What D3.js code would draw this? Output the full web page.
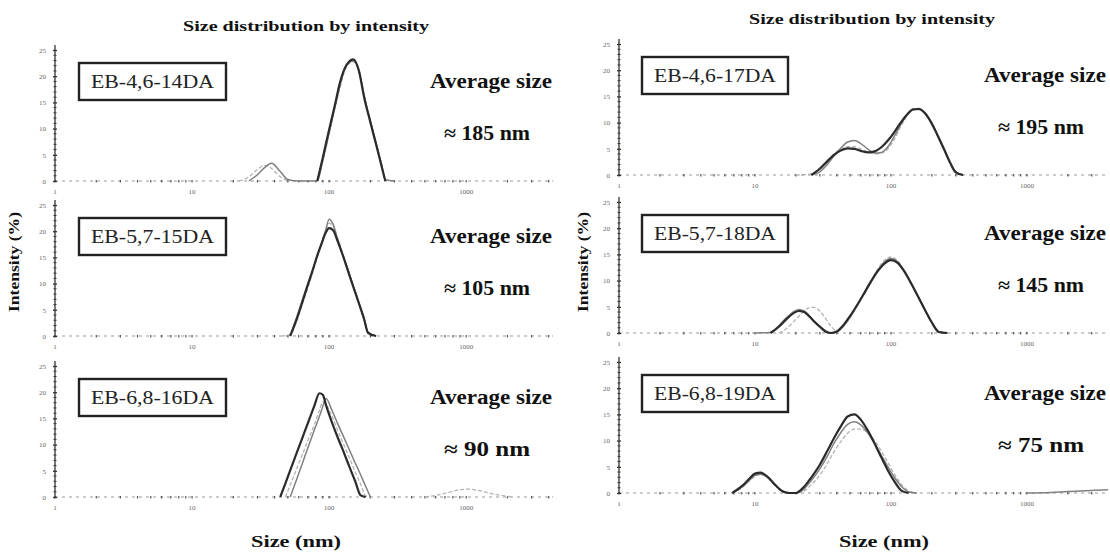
<!DOCTYPE html>
<html><head><meta charset="utf-8">
<script src="https://cdn.jsdelivr.net/npm/d3@7"></script>
<style>body{margin:0;background:#fff}svg{display:block}</style>
</head><body>
<svg id="c" width="1110" height="554"></svg>
<script>
// ---------- data ----------
const xTickValues = [1, 10, 100, 1000];
const xTickLabels = ["1", "10", "100", "1000"];
const yTickValues = [0, 5, 10, 15, 20, 25];
const sampleNames = ["EB-4,6-14DA", "EB-5,7-15DA", "EB-6,8-16DA", "EB-4,6-17DA", "EB-5,7-18DA", "EB-6,8-19DA"];
const averageSizes = ["185", "105", "90", "195", "145", "75"];

const sizes14 = [1, 18, 22, 26, 30, 34, 38, 44, 50, 60, 82, 90, 100, 110, 120, 130, 140, 150, 165, 180, 200, 220, 240, 257, 300, 500, 1000, 4300];
const run14a = [0,0,0,0,0,0,0,0,0,0,0,4.5,9.8,14.4,18.8,21.5,22.8,23.2,21.0,16.0,11.2,7.0,3.1,0,0,0,0,0];
const run14b = [0,0,0,0,1.2,2.6,3.4,1.8,0.3,0,0,4.0,9.2,14.0,18.2,21.5,22.6,22.9,21.2,16.4,11.5,7.3,3.4,0.3,0,0,0,0];
const run14c = [0,0,0,0.8,2.2,3.0,2.4,0.8,0,0,0,3.8,9.0,13.8,17.8,21.0,22.4,22.8,20.8,16.2,11.3,7.2,3.4,0,0,0,0,0];

const sizes15 = [1, 30, 45, 52, 58, 64, 70, 76, 82, 88, 94, 100, 107, 115, 125, 135, 150, 165, 180, 192, 220, 500, 1000, 4300];
const run15a = [0,0,0,0,3.2,6.6,9.8,12.6,15.4,17.6,19.6,20.6,20.2,18.2,15.6,13.0,9.4,6.2,3.2,0.6,0,0,0,0];
const run15b = [0,0,0,0,3.6,7.0,10.0,12.8,15.3,17.7,20.0,22.3,21.3,18.6,15.8,13.2,9.6,6.4,3.4,0.8,0,0,0,0];
const run15c = [0,0,0,0.3,2.8,6.2,9.2,12.2,15.0,17.5,20.0,21.5,21.0,18.8,16.0,13.3,9.6,6.3,3.2,0.7,0,0,0,0];

const sizes16 = [1, 30, 40, 44, 48, 52, 58, 64, 70, 78, 85, 90, 95, 105, 115, 125, 140, 155, 170, 185, 200, 250, 500, 600, 750, 900, 1050, 1250, 1500, 1800, 2200, 4300];
const run16a = [0,0,0,0,2.6,5.1,8.4,11.4,14.1,17.4,19.8,19.5,17.5,14.2,11.5,9.2,5.9,3.0,0.3,0,0,0,0,0,0,0,0,0,0,0,0,0];
const run16b = [0,0,0,0,0,0,3.4,6.5,9.4,12.8,15.4,17.3,18.8,16.5,14.1,12.0,9.1,6.5,4.2,2.0,0,0,0,0,0,0,0,0,0,0,0,0];
const run16c = [0,0,0,0,0,2.3,5.4,8.2,10.8,13.8,16.6,18.2,17.6,15.4,12.8,10.6,7.6,4.8,2.4,0.2,0,0,0,0.3,0.9,1.4,1.5,1.2,0.7,0.3,0,0];

const sizes17 = [1, 20, 26, 30, 34, 38, 43, 48, 54, 60, 68, 76, 85, 95, 106, 118, 132, 145, 160, 178, 198, 220, 245, 272, 300, 340, 1000, 3950];
const run17a = [0,0,0,1.2,2.6,3.8,4.7,5.1,5.0,4.6,4.3,4.5,5.3,6.6,8.2,10.0,11.6,12.5,12.6,11.8,10.0,7.6,5.0,2.4,0.5,0,0,0];
const run17b = [0,0,0,0.6,2.0,3.6,5.2,6.3,6.6,6.0,4.9,4.2,4.3,5.4,7.4,9.6,11.5,12.6,12.7,11.9,10.1,7.7,5.1,2.5,0.6,0,0,0];
const run17c = [0,0,0.2,1.4,2.8,4.0,4.9,5.4,5.4,5.0,4.4,4.0,4.2,5.0,6.8,9.2,11.3,12.4,12.5,11.8,10.0,7.6,5.0,2.4,0.5,0,0,0];

const sizes18 = [1, 10, 13, 15, 17, 19, 21, 23, 25, 27, 30, 33, 36, 40, 45, 50, 56, 63, 71, 80, 90, 100, 112, 125, 140, 158, 178, 200, 225, 260, 1000, 3950];
const run18a = [0,0,0,1.2,2.6,3.7,4.2,4.0,3.2,2.3,1.2,0.3,0,0.3,1.6,3.2,5.2,7.4,9.7,11.8,13.3,13.9,13.4,11.8,9.6,7.0,4.4,2.0,0.2,0,0,0];
const run18b = [0,0,0.1,1.4,2.9,4.0,4.5,4.2,3.4,2.4,1.3,0.4,0,0.2,1.4,3.0,5.1,7.5,9.9,12.0,13.6,14.2,13.6,11.9,9.6,7.0,4.4,2.0,0.2,0,0,0];
const run18c = [0,0,0,0,0.8,2.0,3.2,4.2,4.8,4.9,4.2,2.8,1.4,0.4,1.3,2.9,5.0,7.4,9.9,12.2,13.9,14.5,13.8,12.0,9.6,7.0,4.4,2.0,0.2,0,0,0];

const sizes19 = [1, 5, 6.8, 8, 9, 10, 11, 12.5, 14, 16, 18, 20, 23, 26, 30, 34, 38, 43, 48, 54, 60, 68, 76, 85, 95, 106, 120, 135, 155, 180, 1000, 1500, 2000, 2500, 3000, 3950];
const run19a = [0,0,0,1.3,2.6,3.7,3.9,3.0,1.6,0.3,0,0,1.2,3.0,5.4,8.0,10.4,12.8,14.6,15.0,14.0,11.8,9.4,6.8,4.3,2.2,0.4,0,0,0,0,0,0,0,0,0];
const run19b = [0,0,0,1.1,2.3,3.4,3.6,2.9,1.6,0.4,0,0,0.8,2.4,4.6,7.0,9.4,11.6,13.1,13.6,13.0,11.4,9.4,7.2,5.0,3.0,1.2,0.2,0,0,0,0.1,0.3,0.4,0.5,0.6];
const run19c = [0,0,0,1.0,2.2,3.2,3.5,2.8,1.5,0.3,0,0,0.4,1.6,3.4,5.6,7.8,9.9,11.4,12.2,12.2,11.4,10.0,8.0,5.8,3.6,1.6,0.4,0,0,0,0,0,0,0,0];

// ---------- layout ----------
const panels = [
  {sizes: sizes14, runs: [run14c, run14b, run14a], col: 0, base: 181},
  {sizes: sizes15, runs: [run15c, run15b, run15a], col: 0, base: 336},
  {sizes: sizes16, runs: [run16c, run16b, run16a], col: 0, base: 497},
  {sizes: sizes17, runs: [run17c, run17b, run17a], col: 1, base: 175},
  {sizes: sizes18, runs: [run18c, run18b, run18a], col: 1, base: 333},
  {sizes: sizes19, runs: [run19c, run19b, run19a], col: 1, base: 493}
];
const cols = [
  {x0: 55, x1: 553, max: 4300, boxX: 79, boxW: 147, avgX: 491, title: 306, titleY: 31, sizeX: 296, yLabX: 19},
  {x0: 619, x1: 1108, max: 3950, boxX: 642, boxW: 146, avgX: 1045, title: 872, titleY: 24, sizeX: 884, yLabX: 588}
];
const runStyles = [
  {stroke: "#b4b4b4", width: 1.3, dash: "4,2"},
  {stroke: "#808080", width: 1.5, dash: null},
  {stroke: "#2b2b2b", width: 2.2, dash: null}
];
const serif = "'Liberation Serif','Times New Roman',serif";
const svg = d3.select("#c");

panels.forEach((p, i) => {
  const c = cols[p.col];
  const x = d3.scaleLog().domain([1, c.max]).range([c.x0, c.x1]);
  const y = d3.scaleLinear().domain([0, 25]).range([p.base, p.base - 131]);
  const g = svg.append("g");

  // x baseline (dotted)
  g.append("line").attr("x1", c.x0).attr("x2", c.x1).attr("y1", p.base).attr("y2", p.base)
    .attr("stroke", "#9a9a9a").attr("stroke-width", 1.2).attr("stroke-dasharray", "3,4");
  const minor = [];
  [1, 10, 100, 1000].forEach(d => { for (let k = 1; k < 10; k++) { const v = d * k; if (v <= c.max) minor.push(v); } });
  g.selectAll(".mt").data(minor).enter().append("line")
    .attr("x1", d => x(d)).attr("x2", d => x(d)).attr("y1", p.base - 1).attr("y2", p.base + 1.5)
    .attr("stroke", "#555").attr("stroke-width", 1.2);
  g.selectAll(".xl").data(xTickValues).enter().append("text")
    .attr("x", d => x(d)).attr("y", p.base + 13).attr("text-anchor", "middle")
    .attr("font-family", serif).attr("font-size", 7).attr("fill", "#666")
    .text((d, j) => xTickLabels[j]);

  // y axis
  const yAxis = d3.axisLeft(y).tickValues(yTickValues).tickSize(3).tickPadding(6).tickFormat(d3.format("d"));
  const ya = g.append("g").attr("transform", `translate(${c.x0},0)`).call(yAxis);
  ya.select(".domain").attr("stroke", "#333").attr("stroke-width", 1.3).attr("d", `M0,${p.base}V${p.base - 136}`);
  ya.selectAll(".tick line").attr("stroke", "#333").attr("stroke-width", 1.3).attr("x2", 2).attr("x1", -2);
  ya.selectAll(".tick text").attr("font-family", serif).attr("font-size", 7).attr("fill", "#666");
  const yMinor = d3.range(0, 26, 1).filter(v => v % 5 !== 0);
  g.selectAll(".ym").data(yMinor).enter().append("line")
    .attr("x1", c.x0 - 1.5).attr("x2", c.x0 + 1.5).attr("y1", d => y(d)).attr("y2", d => y(d))
    .attr("stroke", "#333").attr("stroke-width", 1);

  // curves (zero stretches left to the dotted baseline)
  p.runs.forEach((r, k) => {
    const st = runStyles[k];
    const pts = p.sizes.map((s, j) => [s, r[j], r[j] > 0 || (r[j - 1] || 0) > 0 || (r[j + 1] || 0) > 0]);
    const line = d3.line().defined(d => d[2]).x(d => x(d[0])).y(d => y(d[1])).curve(d3.curveMonotoneX);
    g.append("path").datum(pts)
      .attr("d", line).attr("fill", "none")
      .attr("stroke", st.stroke).attr("stroke-width", st.width)
      .attr("stroke-dasharray", st.dash).attr("stroke-linejoin", "round");
  });

  // sample box
  const bt = p.base - 118;
  g.append("rect").attr("x", c.boxX).attr("y", bt).attr("width", c.boxW).attr("height", 37)
    .attr("fill", "#fff").attr("stroke", "#222").attr("stroke-width", 2.4);
  g.append("text").attr("x", c.boxX + c.boxW / 2).attr("y", bt + 25).attr("text-anchor", "middle")
    .attr("font-family", serif).attr("font-size", 18).attr("fill", "#222")
    .attr("textLength", c.boxW - 24).attr("lengthAdjust", "spacingAndGlyphs")
    .text(sampleNames[i]);

  // average size
  g.append("text").attr("x", c.avgX).attr("y", p.base - 93).attr("text-anchor", "middle")
    .attr("font-family", serif).attr("font-size", 20).attr("font-weight", "bold").attr("fill", "#111")
    .attr("textLength", 122).attr("lengthAdjust", "spacingAndGlyphs")
    .text("Average size");
  g.append("text").attr("x", c.avgX - 4).attr("y", p.base - 41).attr("text-anchor", "middle")
    .attr("font-family", serif).attr("font-size", 20).attr("font-weight", "bold").attr("fill", "#111")
    .attr("textLength", 86).attr("lengthAdjust", "spacingAndGlyphs")
    .text("≈ " + averageSizes[i] + " nm");
});

cols.forEach(c => {
  svg.append("text").attr("x", c.title).attr("y", c.titleY).attr("text-anchor", "middle")
    .attr("font-family", serif).attr("font-size", 15).attr("font-weight", "bold").attr("fill", "#111")
    .attr("textLength", 246).attr("lengthAdjust", "spacingAndGlyphs")
    .text("Size distribution by intensity");
  svg.append("text").attr("x", c.sizeX).attr("y", 547).attr("text-anchor", "middle")
    .attr("font-family", serif).attr("font-size", 17).attr("font-weight", "bold").attr("fill", "#111")
    .attr("textLength", 90).attr("lengthAdjust", "spacingAndGlyphs")
    .text("Size (nm)");
  svg.append("text").attr("transform", `translate(${c.yLabX},262) rotate(-90)`).attr("text-anchor", "middle")
    .attr("font-family", serif).attr("font-size", 15).attr("font-weight", "bold").attr("fill", "#111")
    .attr("textLength", 100).attr("lengthAdjust", "spacingAndGlyphs")
    .text("Intensity (%)");
});
</script>
</body></html>
